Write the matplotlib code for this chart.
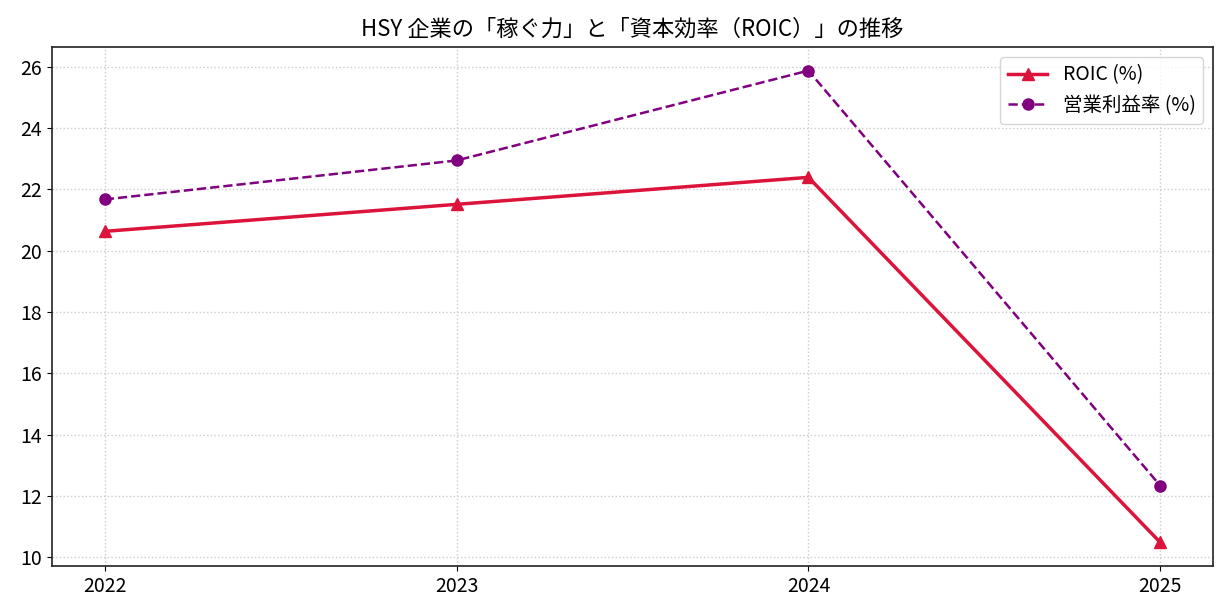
import matplotlib
matplotlib.use("Agg")
import matplotlib.pyplot as plt

plt.rcParams['font.family'] = ['Noto Sans CJK JP', 'DejaVu Sans']

years = [2022, 2023, 2024, 2025]
roic = [20.63, 21.51, 22.39, 10.49]
op_margin = [21.67, 22.94, 25.87, 12.34]
title = "HSY 企業の「稼ぐ力」と「資本効率（ROIC）」の推移"
labels = ["ROIC (%)", "営業利益率 (%)"]

fig = plt.figure(figsize=(12.28, 6.16), dpi=100)
ax = fig.add_axes([52/1228, 1-566/616, (1213-52)/1228, (566-47)/616])

ax.plot(years, roic, color='#DC143C', linewidth=2.5, marker='^', markersize=8, label=labels[0])
ax.plot(years, op_margin, color='#800080', linewidth=1.8, linestyle='--', marker='o', markersize=8, label=labels[1])

ax.set_xticks(years)
ax.set_xticklabels([str(y) for y in years])
ax.tick_params(labelsize=14)
ax.grid(True, linestyle=':', color='#cccccc', linewidth=1)
ax.set_title(title, fontsize=16, pad=8)
ax.legend(loc='upper right', fontsize=14)
for s in ax.spines.values():
    s.set_color('#222222')
    s.set_linewidth(1.2)

fig.savefig("out.png", dpi=100)
